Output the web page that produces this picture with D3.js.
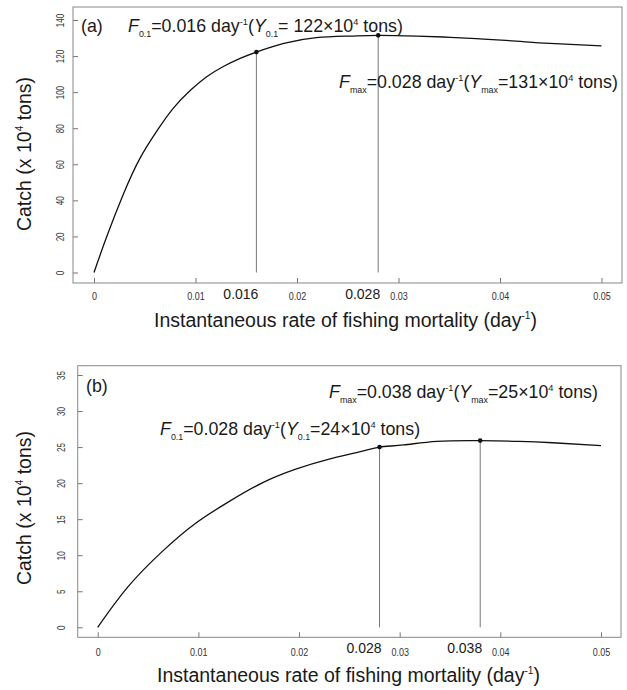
<!DOCTYPE html>
<html>
<head>
<meta charset="utf-8">
<script src="https://cdn.jsdelivr.net/npm/d3@7"></script>
<style>
body{margin:0;background:#fff;}
svg{display:block;font-family:"Liberation Sans",Arial,sans-serif;}
</style>
</head>
<body>
<div id="chart"></div>
<script>
// panel (a): catch against fishing mortality
var fA = [0, 0.00125, 0.0029, 0.0045, 0.0062, 0.0078, 0.0095, 0.0111, 0.0127, 0.0144, 0.016,
          0.0187, 0.0219, 0.0252, 0.028, 0.0318, 0.0351, 0.0384, 0.0416, 0.0449, 0.05];
var catchA = [0, 19.8, 43.5, 63.0, 78.5, 91.0, 101.0, 108.5, 114.1, 118.7, 122.2,
              127.0, 130.2, 131.1, 131.5, 131.1, 130.4, 129.4, 128.3, 127.0, 125.6];
var refFA = [0.016, 0.028];
var refCatchA = [122.2, 131.5];
var refLabelA = ["0.016", "0.028"];
var yTicksA = [0, 20, 40, 60, 80, 100, 120, 140];

// panel (b)
var fB = [0, 0.003, 0.0064, 0.0097, 0.013, 0.0163, 0.0196, 0.0229, 0.0262, 0.028,
          0.0304, 0.0337, 0.038, 0.0419, 0.0452, 0.05];
var catchB = [0, 5.6, 10.5, 14.4, 17.4, 20.0, 21.9, 23.3, 24.4, 25.0,
              25.3, 25.8, 25.9, 25.8, 25.6, 25.2];
var refFB = [0.028, 0.038];
var refCatchB = [25.0, 25.9];
var refLabelB = ["0.028", "0.038"];
var yTicksB = [0, 5, 10, 15, 20, 25, 30, 35];

var xTicks = [0, 0.01, 0.02, 0.03, 0.04, 0.05];

var svg = d3.select("#chart").append("svg").attr("width", 627).attr("height", 690);

// text with italic / sub / sup pieces
function richText(g, x, y, size, parts, color) {
	var t = g.append("text").attr("x", x).attr("y", y)
		.style("font-size", size + "px").attr("fill", color || "#1a1a1a");
	var shift = 0;
	parts.forEach(function(p){
		var s = t.append("tspan").text(p[0]);
		var mode = p[1] || "";
		var target = 0;
		if (mode == "sub"){ target = size * 0.26; s.style("font-size", (size * 0.5) + "px"); }
		if (mode == "sup"){ target = -size * 0.4; s.style("font-size", (size * 0.52) + "px"); }
		if (mode == "i") s.style("font-style", "italic");
		if (target != shift){ s.attr("dy", target - shift); shift = target; }
	});
	return t;
}

function drawPanel(p){
	var g = svg.append("g");
	var x = d3.scaleLinear().domain([0, 0.05]).range(p.xRange);
	var y = d3.scaleLinear().domain(p.yDomain).range(p.yRange);

	// x axis (ticks inside the box)
	var xa = g.append("g").attr("transform", "translate(0," + p.box[3] + ")")
		.call(d3.axisBottom(x).tickValues(xTicks)
			.tickFormat(function(d){ return d === 0 ? "0" : d3.format(".2f")(d); })
			.tickSizeInner(-5).tickSizeOuter(0).tickPadding(p.xPad));
	xa.select(".domain").remove();
	xa.selectAll("line").attr("stroke", "#777");
	xa.selectAll("text").attr("fill", "#333").style("font-size", "10px")
		.attr("transform", "scale(0.9,1)")
		.style("font-family", "'Liberation Sans',Arial,sans-serif");

	var ya = g.append("g").attr("transform", "translate(" + p.box[0] + ",0)")
		.call(d3.axisLeft(y).tickValues(p.yTicks).tickSizeInner(-5).tickSizeOuter(0));
	ya.select(".domain").remove();
	ya.selectAll("line").attr("stroke", "#777");
	ya.selectAll("text").attr("x", null).attr("dy", null)
		.attr("text-anchor", "middle")
		.attr("transform", "translate(" + p.yLabelOff + ",0) rotate(-90) scale(0.8,1)")
		.attr("fill", "#333").style("font-size", "10px")
		.style("font-family", "'Liberation Sans',Arial,sans-serif");

	// box
	g.append("rect").attr("x", p.box[0]).attr("y", p.box[1])
		.attr("width", p.box[2] - p.box[0]).attr("height", p.box[3] - p.box[1])
		.attr("fill", "none").attr("stroke", "#888").attr("stroke-width", 1);

	// reference lines
	g.selectAll(".ref").data(p.refF).enter().append("line").attr("class", "ref")
		.attr("x1", function(d){ return x(d); }).attr("x2", function(d){ return x(d); })
		.attr("y1", y(0)).attr("y2", function(d, i){ return y(p.refC[i]); })
		.attr("stroke", "#777").attr("stroke-width", 1);

	var line = d3.line().x(function(d){ return x(d[0]); }).y(function(d){ return y(d[1]); })
		.curve(d3.curveNatural);
	g.append("path").datum(p.f.map(function(d, i){ return [d, p.c[i]]; }))
		.attr("d", line).attr("fill", "none").attr("stroke", "#111").attr("stroke-width", 1.3);

	g.selectAll(".dot").data(p.refF).enter().append("circle").attr("class", "dot")
		.attr("cx", function(d){ return x(d); }).attr("cy", function(d, i){ return y(p.refC[i]); })
		.attr("r", 2.3).attr("fill", "#111");

	g.selectAll(".refLab").data(p.refF).enter().append("text").attr("class", "refLab")
		.attr("x", function(d){ return x(d) + 2; }).attr("y", p.refLabY)
		.attr("text-anchor", "end").style("font-size", "14px").attr("fill", "#1a1a1a")
		.text(function(d, i){ return p.refLab[i]; });

	// panel letter and annotations
	g.append("text").attr("x", p.letter[0]).attr("y", p.letter[1])
		.style("font-size", "17.8px").attr("fill", "#1a1a1a").text(p.letter[2]);
	p.notes.forEach(function(n){ richText(g, n[0], n[1], 17.8, n[2]); });

	// axis titles
	richText(g, p.xTitle[0], p.xTitle[1], 19.5,
		[["Instantaneous rate of fishing mortality (day"], ["-1", "sup"], [")"]]);
	richText(g, 0, 0, 19.5, [["Catch (x 10"], ["4", "sup"], [" tons)"]])
		.attr("text-anchor", "middle")
		.attr("transform", "translate(" + p.yTitle[0] + "," + p.yTitle[1] + ") rotate(-90)");
}

drawPanel({
	box: [73, 7, 622, 283], xRange: [94, 601.5], yDomain: [0, 140], yRange: [272.5, 20],
	yTicks: yTicksA, xPad: 10, yLabelOff: -9.4,
	f: fA, c: catchA, refF: refFA, refC: refCatchA, refLab: refLabelA, refLabY: 299,
	letter: [81, 32, "(a)"],
	notes: [
		[128, 32, [["F", "i"], ["0.1", "sub"], ["=0.016 day"], ["-1", "sup"], ["("], ["Y", "i"], ["0.1", "sub"], ["= 122×10"], ["4", "sup"], [" tons)"]]],
		[339, 88, [["F", "i"], ["max", "sub"], ["=0.028 day"], ["-1", "sup"], ["("], ["Y", "i"], ["max", "sub"], ["=131×10"], ["4", "sup"], [" tons)"]]]
	],
	xTitle: [154, 327], yTitle: [31, 154]
});

drawPanel({
	box: [77.7, 365.7, 621, 637.3], xRange: [97.7, 601], yDomain: [0, 35], yRange: [627.3, 375],
	yTicks: yTicksB, xPad: 12, yLabelOff: -13.1,
	f: fB, c: catchB, refF: refFB, refC: refCatchB, refLab: refLabelB, refLabY: 653,
	letter: [86, 391.5, "(b)"],
	notes: [
		[329, 398, [["F", "i"], ["max", "sub"], ["=0.038 day"], ["-1", "sup"], ["("], ["Y", "i"], ["max", "sub"], ["=25×10"], ["4", "sup"], [" tons)"]]],
		[160, 435, [["F", "i"], ["0.1", "sub"], ["=0.028 day"], ["-1", "sup"], ["("], ["Y", "i"], ["0.1", "sub"], ["=24×10"], ["4", "sup"], [" tons)"]]]
	],
	xTitle: [157, 681.5], yTitle: [31, 508]
});
</script>
</body>
</html>
